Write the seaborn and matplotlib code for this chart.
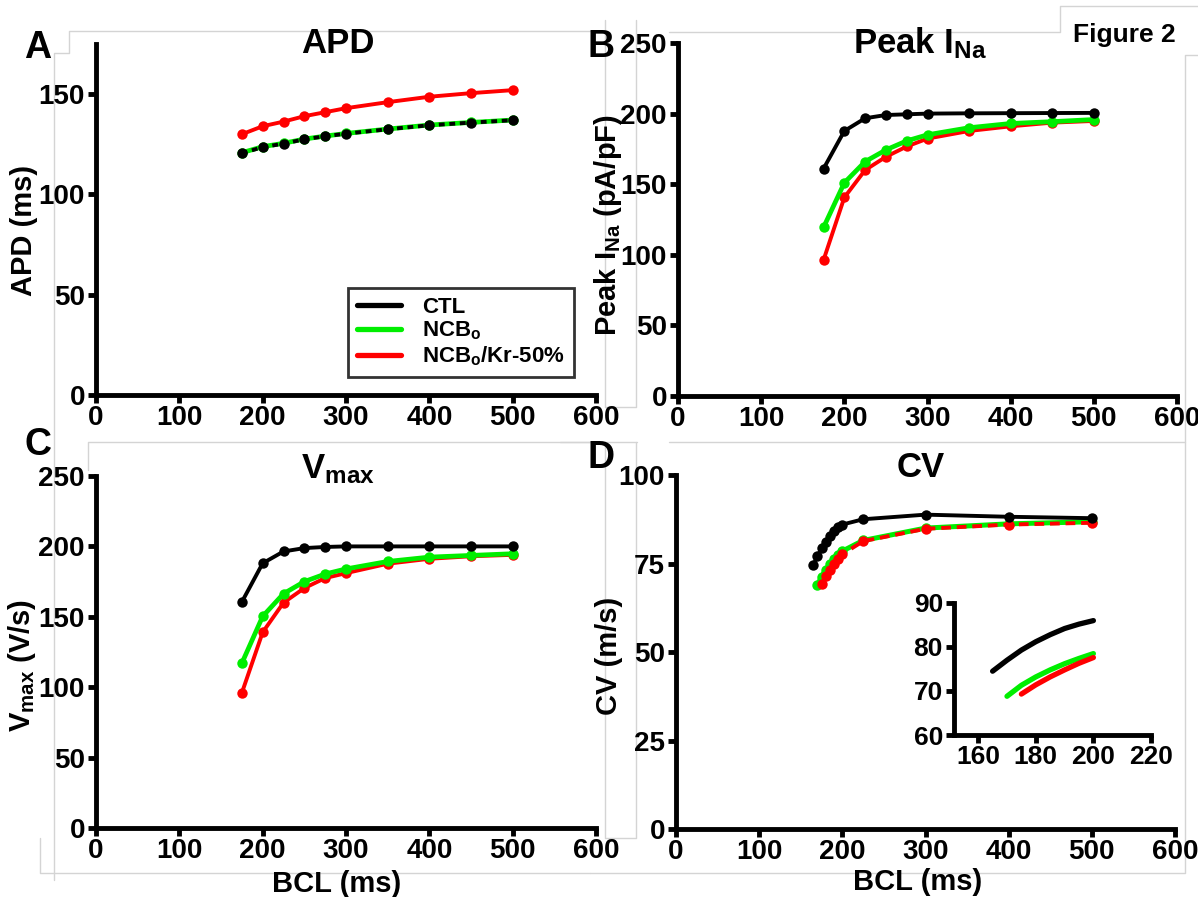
import matplotlib
matplotlib.use("Agg")
import matplotlib.pyplot as plt
from matplotlib.lines import Line2D
import seaborn as sns
import pandas as pd

# ---------------- data ----------------
bcl = [175, 200, 225, 250, 275, 300, 350, 400, 450, 500]

apd_ctl = [120.5, 123.6, 125.3, 127.5, 129.0, 130.3, 132.5, 134.5, 135.8, 137.0]
apd_ncb = [120.8, 123.8, 125.5, 127.6, 129.1, 130.4, 132.6, 134.6, 135.9, 137.1]
apd_kr = [130.0, 134.0, 136.3, 139.0, 141.0, 143.0, 146.0, 148.7, 150.5, 152.0]

ina_ctl = [161.0, 187.7, 196.7, 199.0, 199.5, 200.0, 200.2, 200.3, 200.4, 200.5]
ina_ncb = [119.4, 151.0, 166.0, 174.3, 180.7, 185.0, 190.0, 193.0, 194.3, 195.8]
ina_kr = [96.3, 140.6, 160.0, 169.4, 176.7, 182.3, 187.7, 191.0, 193.6, 194.8]

vmax_ctl = [160.5, 188.0, 196.4, 198.8, 199.6, 200.0, 200.0, 200.0, 200.0, 200.0]
vmax_ncb = [117.0, 150.3, 166.4, 175.0, 180.4, 184.0, 189.3, 192.4, 193.6, 194.8]
vmax_kr = [95.9, 139.0, 160.0, 170.4, 177.5, 181.0, 187.7, 191.2, 193.0, 194.0]

cv_bcl_ctl = [165, 170, 175, 180, 185, 190, 195, 200, 225, 300, 400, 500]
cv_ctl = [74.5, 77.0, 79.3, 81.2, 82.8, 84.2, 85.2, 86.0, 87.5, 88.8, 88.2, 87.8]
cv_bcl_ncb = [170, 175, 180, 185, 190, 195, 200, 225, 300, 400, 500]
cv_ncb = [68.8, 71.3, 73.2, 74.8, 76.2, 77.4, 78.5, 81.5, 85.0, 86.2, 86.8]
cv_bcl_kr = [175, 180, 185, 190, 195, 200, 225, 300, 400, 500]
cv_kr = [69.3, 71.4, 73.2, 74.8, 76.3, 77.6, 81.3, 84.8, 86.0, 86.5]

labels = ["CTL", r"NCB$_{\mathrm{o}}$", r"NCB$_{\mathrm{o}}$/Kr-50%"]
colors = ["#000000", "#00ee00", "#ff0000"]

# ---------------- style ----------------
sns.set_style("ticks")
plt.rcParams["font.family"] = ["Liberation Sans", "DejaVu Sans"]
plt.rcParams["font.weight"] = "bold"
plt.rcParams["axes.labelweight"] = "bold"
plt.rcParams["text.color"] = "black"
plt.rcParams["axes.labelcolor"] = "black"
plt.rcParams["xtick.color"] = "black"
plt.rcParams["ytick.color"] = "black"
plt.rcParams["mathtext.fontset"] = "custom"
plt.rcParams["mathtext.rm"] = "Liberation Sans:bold"
plt.rcParams["mathtext.it"] = "Liberation Sans:bold"
plt.rcParams["mathtext.bf"] = "Liberation Sans:bold"

W, H = 1198, 897
fig = plt.figure(figsize=(W / 100, H / 100), dpi=100)


def fx(x):
    return x / W


def fy(y):
    return 1 - y / H


def add_ax(l, r, t, b):
    return fig.add_axes([l / W, 1 - b / H, (r - l) / W, (b - t) / H])


def style_ax(ax, fs=20, lw=3.5):
    sns.despine(ax=ax)
    for s in ["left", "bottom"]:
        ax.spines[s].set_linewidth(lw)
        ax.spines[s].set_color("black")
        ax.spines[s].set_capstyle("projecting")
    ax.tick_params(direction="out", length=6, width=lw, labelsize=fs,
                   color="black", labelcolor="black")
    ax.tick_params(axis="y", pad=2)
    ax.tick_params(axis="x", pad=1)
    for t in ax.get_xticklabels() + ax.get_yticklabels():
        t.set_fontweight("bold")
    ax.yaxis.label.set_color("black")
    ax.xaxis.label.set_color("black")


def series(ax, x, y, color, ls="-", marker="o", lw=2.8, ms=7.5, z=2):
    df = pd.DataFrame({"BCL": x, "val": y})
    sns.lineplot(data=df, x="BCL", y="val", color=color, linestyle=ls,
                 marker=marker, markersize=ms, markeredgewidth=0,
                 linewidth=lw, ax=ax, zorder=z, clip_on=False)


def gline(pts):
    xs = [fx(p[0]) for p in pts]
    ys = [fy(p[1]) for p in pts]
    fig.add_artist(Line2D(xs, ys, color="#d4d4d4", lw=1.0, transform=fig.transFigure, zorder=0))


# faint frame artefacts of the original composite
gline([(54, 880), (54, 53), (69, 53), (69, 31), (590, 31)])
gline([(88, 470), (88, 442), (590, 442)])
gline([(40, 838), (40, 873), (590, 873)])
gline([(605, 20), (605, 407), (636, 407), (636, 20)])
gline([(669, 32), (1060, 32), (1060, 6), (1198, 6)])
gline([(1198, 55), (1185, 55), (1185, 442)])
gline([(560, 442), (637, 442)])
gline([(669, 442), (1185, 442), (1185, 873), (590, 873)])
gline([(605, 442), (605, 838), (636, 838), (636, 442)])

# Panel A
axA = add_ax(96, 596, 44, 395)
series(axA, bcl, apd_kr, colors[2])
series(axA, bcl, apd_ncb, colors[1], lw=3.4)
series(axA, bcl, apd_ctl, colors[0], ls=(0, (1.5, 1.2)), z=3)
axA.set_xlim(0, 600)
axA.set_ylim(0, 175)
axA.set_xticks(range(0, 601, 100))
axA.set_yticks(range(0, 151, 50))
axA.set_xlabel("")
axA.set_ylabel("APD (ms)", fontsize=21, fontweight="bold")
axA.yaxis.set_label_coords(-0.116, 0.47)
style_ax(axA)
handles = [Line2D([0], [0], color=c, lw=3.8) for c in colors]
leg = axA.legend(handles, labels, loc="lower right", bbox_to_anchor=(0.956, 0.051),
                 fontsize=16, frameon=True, fancybox=False, edgecolor="black",
                 handlelength=2.0, handletextpad=0.95, labelspacing=0.1,
                 borderpad=0.4, borderaxespad=0)
leg.get_frame().set_linewidth(2.0)
for t in leg.get_texts():
    t.set_fontweight("bold")
    t.set_color("black")

# Panel B
axB = add_ax(678, 1177, 43, 396)
series(axB, bcl, ina_kr, colors[2])
series(axB, bcl, ina_ncb, colors[1], lw=3.4)
series(axB, bcl, ina_ctl, colors[0], z=3)
axB.set_xlim(0, 600)
axB.set_ylim(0, 250)
axB.set_xticks(range(0, 601, 100))
axB.set_yticks(range(0, 251, 50))
axB.set_xlabel("")
axB.set_ylabel(r"Peak I$_{\mathrm{Na}}$ (pA/pF)", fontsize=21, fontweight="bold")
axB.yaxis.set_label_coords(-0.108, 0.484)
style_ax(axB)

# Panel C
axC = add_ax(96, 596, 476, 828)
series(axC, bcl, vmax_kr, colors[2])
series(axC, bcl, vmax_ncb, colors[1], lw=3.4)
series(axC, bcl, vmax_ctl, colors[0], z=3)
axC.set_xlim(0, 600)
axC.set_ylim(0, 250)
axC.set_xticks(range(0, 601, 100))
axC.set_yticks(range(0, 251, 50))
axC.set_xlabel("BCL (ms)", fontsize=21, fontweight="bold")
axC.xaxis.set_label_coords(0.482, -0.118)
axC.set_ylabel(r"V$_{\mathrm{max}}$ (V/s)", fontsize=21, fontweight="bold")
axC.yaxis.set_label_coords(-0.116, 0.463)
style_ax(axC)

# Panel D
axD = add_ax(676, 1175, 475, 829)
series(axD, cv_bcl_ctl, cv_ctl, colors[0], z=3)
series(axD, cv_bcl_ncb, cv_ncb, colors[1], lw=3.6)
series(axD, cv_bcl_kr, cv_kr, colors[2], ls=(0, (2.5, 1.5)), z=2.5)
axD.set_xlim(0, 600)
axD.set_ylim(0, 100)
axD.set_xticks(range(0, 601, 100))
axD.set_yticks(range(0, 101, 25))
axD.set_xlabel("BCL (ms)", fontsize=21, fontweight="bold")
axD.xaxis.set_label_coords(0.484, -0.11)
axD.set_ylabel("CV (m/s)", fontsize=21, fontweight="bold")
axD.yaxis.set_label_coords(-0.106, 0.489)
style_ax(axD)

# Inset
axI = add_ax(954, 1151, 603, 735)
series(axI, [b for b in cv_bcl_ncb if b <= 200], cv_ncb[:7], colors[1], marker=None, lw=3.8)
series(axI, [b for b in cv_bcl_kr if b <= 200], cv_kr[:6], colors[2], marker=None, lw=3.8)
series(axI, [b for b in cv_bcl_ctl if b <= 200], cv_ctl[:8], colors[0], marker=None, lw=3.8)
axI.set_xlim(151.6, 220)
axI.set_ylim(60, 90)
axI.set_xticks([160, 180, 200, 220])
axI.set_yticks([60, 70, 80, 90])
axI.set_xlabel("")
axI.set_ylabel("")
axI.patch.set_alpha(0)
style_ax(axI, fs=19, lw=3.5)

# Titles
fig.text(fx(338), fy(53), "APD", fontsize=25, fontweight="bold", ha="center", va="baseline", color="black")
fig.text(fx(920), fy(53), r"Peak I$_{\mathrm{Na}}$", fontsize=25, fontweight="bold", ha="center", va="baseline", color="black")
fig.text(fx(338), fy(478), r"V$_{\mathrm{max}}$", fontsize=25, fontweight="bold", ha="center", va="baseline", color="black")
fig.text(fx(921), fy(477), "CV", fontsize=25, fontweight="bold", ha="center", va="baseline", color="black")

# Panel letters and figure tag
for letter, x, y in [("A", 24, 58), ("B", 588, 57), ("C", 24, 455), ("D", 588, 468)]:
    fig.text(fx(x), fy(y), letter, fontsize=27, fontweight="bold", ha="left", va="baseline", color="black")
fig.text(fx(1073), fy(42), "Figure 2", fontsize=19, fontweight="bold", ha="left", va="baseline", color="black")

fig.savefig("out.png", dpi=100)
